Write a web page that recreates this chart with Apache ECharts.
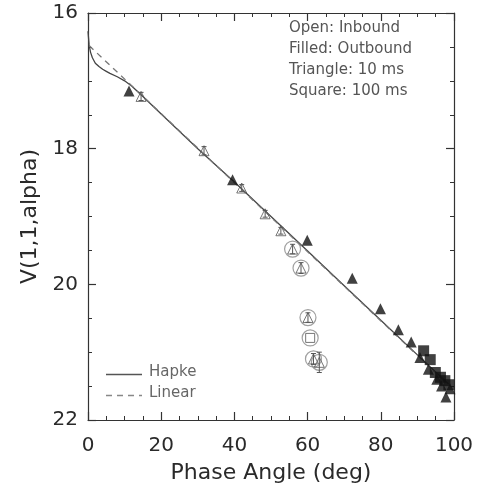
<!DOCTYPE html>
<html>
<head>
<meta charset="utf-8">
<script src="https://cdn.jsdelivr.net/npm/echarts@6/dist/echarts.min.js"></script>
<style>html,body{margin:0;padding:0;background:#fff;}#c{width:479px;height:489px;}</style>
</head>
<body>
<div id="c"></div>
<script>
// Hapke model curve
var hapkeX = [0, 0.3, 0.7, 1.2, 2, 3, 4, 5, 6, 8, 10, 12, 15, 20, 30, 40, 50, 60, 70, 80, 90, 98.5];
var hapkeY = [16.27, 16.47, 16.58, 16.66, 16.74, 16.79, 16.83, 16.86, 16.89, 16.94, 17.0, 17.08, 17.23, 17.49, 18.0, 18.49, 19.0, 19.51, 20.02, 20.53, 21.04, 21.47];
// Linear fit
var linearX = [0.3, 98.5];
var linearY = [16.48, 21.48];
// Open triangles: inbound, 10 ms
var openTriX = [14.5, 31.7, 42.0, 48.4, 52.7, 55.9, 58.2, 60.1, 61.6, 63.2];
var openTriY = [17.23, 18.03, 18.58, 18.96, 19.21, 19.48, 19.76, 20.49, 21.10, 21.15];
var openTriErr = [0.06, 0.06, 0.05, 0.05, 0.05, 0.07, 0.08, 0.07, 0.08, 0.15];
// Open square: inbound, 100 ms
var openSqX = [60.7];
var openSqY = [20.79];
// Filled triangles: outbound, 10 ms
var fillTriX = [11.2, 39.5, 59.9, 72.2, 79.9, 84.8, 88.3, 90.7, 93.0, 95.3, 96.6, 97.8, 98.9];
var fillTriY = [17.15, 18.46, 19.35, 19.91, 20.36, 20.67, 20.85, 21.08, 21.25, 21.40, 21.50, 21.66, 21.54];
// Filled squares: outbound, 100 ms
var fillSqX = [91.7, 93.5, 94.9, 96.3, 97.5, 98.6];
var fillSqY = [20.98, 21.11, 21.30, 21.37, 21.42, 21.48];
// Circled points
var circX = [55.9, 58.2, 60.1, 60.7, 61.6, 63.2];
var circY = [19.48, 19.76, 20.49, 20.79, 21.10, 21.15];
// Legend labels
var legendNames = ['Hapke', 'Linear'];

function pairs(xs, ys) { return xs.map(function (x, i) { return [x, ys[i]]; }); }

var FONT = 'DejaVu Sans';
var axisCol = '#333';
function xAx(pos, show) {
  return {
    type: 'value', position: pos, min: 0, max: 100, interval: 20,
    axisLine: { show: true, onZero: false, lineStyle: { color: axisCol, width: 1.2 } },
    axisTick: { show: true, inside: true, length: 8, lineStyle: { color: axisCol, width: 1.2 } },
    minorTick: { show: true, splitNumber: 4, length: 4, lineStyle: { color: axisCol, width: 1 } },
    splitLine: { show: false },
    axisLabel: { show: show, fontFamily: FONT, fontSize: 20, color: '#2a2a2a', margin: 16 },
    name: show ? 'Phase Angle (deg)' : '', nameLocation: 'middle', nameGap: 42,
    nameTextStyle: { fontFamily: FONT, fontSize: 22, color: '#2a2a2a' }
  };
}
function yAx(pos, show) {
  return {
    type: 'value', position: pos, min: 16, max: 22, interval: 2, inverse: true,
    axisLine: { show: true, onZero: false, lineStyle: { color: axisCol, width: 1.2 } },
    axisTick: { show: true, inside: true, length: 8, lineStyle: { color: axisCol, width: 1.2 } },
    minorTick: { show: true, splitNumber: 4, length: 4, lineStyle: { color: axisCol, width: 1 } },
    splitLine: { show: false },
    axisLabel: { show: show, fontFamily: FONT, fontSize: 20, color: '#2a2a2a', margin: 10 },
    name: show ? 'V(1,1,alpha)' : '', nameLocation: 'middle', nameGap: 44, nameRotate: 90,
    nameTextStyle: { fontFamily: FONT, fontSize: 22, color: '#2a2a2a' }
  };
}

var chart = echarts.init(document.getElementById('c'), null, { renderer: 'canvas' });
chart.setOption({
  animation: false,
  backgroundColor: '#fff',
  grid: { left: 88, top: 13, right: 25, bottom: 66, containLabel: false },
  xAxis: [xAx('bottom', true), xAx('top', false)],
  yAxis: [yAx('left', true), yAx('right', false)],
  graphic: [
    { type: 'text', left: 289, top: 18,
      style: { text: 'Open: Inbound\nFilled: Outbound\nTriangle: 10 ms\nSquare: 100 ms',
        font: '15px "DejaVu Sans"', fill: '#555', lineHeight: 21 } },
    { type: 'line', shape: { x1: 106, y1: 374.5, x2: 142, y2: 374.5 },
      style: { stroke: '#555', lineWidth: 1.3 } },
    { type: 'line', shape: { x1: 106, y1: 395.5, x2: 142, y2: 395.5 },
      style: { stroke: '#888', lineWidth: 1.3, lineDash: [6, 5] } },
    { type: 'text', x: 149, y: 372, style: { text: legendNames[0], font: '15px "DejaVu Sans"', fill: '#666', verticalAlign: 'middle' } },
    { type: 'text', x: 149, y: 393, style: { text: legendNames[1], font: '15px "DejaVu Sans"', fill: '#666', verticalAlign: 'middle' } }
  ],
  series: [
    { name: legendNames[0], type: 'line', data: pairs(hapkeX, hapkeY), smooth: false, symbol: 'none',
      lineStyle: { color: '#444', width: 1.3, type: 'solid' }, z: 3 },
    { name: legendNames[1], type: 'line', data: pairs(linearX, linearY), symbol: 'none',
      lineStyle: { color: '#777', width: 1.3, type: [6, 5] }, z: 3 },
    { name: 'circ', type: 'scatter', data: pairs(circX, circY), symbol: 'circle', symbolSize: 16,
      itemStyle: { color: 'rgba(0,0,0,0)', borderColor: '#888', borderWidth: 1.2 }, z: 4 },
    { name: 'err', type: 'custom', data: openTriX.map(function (x, i) { return [x, openTriY[i], openTriErr[i]]; }),
      renderItem: function (params, api) {
        var x = api.value(0), y = api.value(1), e = api.value(2);
        var p1 = api.coord([x, y - e]), p2 = api.coord([x, y + e]);
        var st = { stroke: '#555', lineWidth: 1 };
        return { type: 'group', children: [
          { type: 'line', shape: { x1: p1[0], y1: p1[1], x2: p2[0], y2: p2[1] }, style: st },
          { type: 'line', shape: { x1: p1[0] - 2.5, y1: p1[1], x2: p1[0] + 2.5, y2: p1[1] }, style: st },
          { type: 'line', shape: { x1: p2[0] - 2.5, y1: p2[1], x2: p2[0] + 2.5, y2: p2[1] }, style: st }
        ] };
      }, z: 5 },
    { name: 'openTri', type: 'scatter', data: pairs(openTriX, openTriY), symbol: 'triangle', symbolSize: 10,
      itemStyle: { color: 'rgba(255,255,255,0)', borderColor: '#555', borderWidth: 1 }, z: 5 },
    { name: 'openSq', type: 'scatter', data: pairs(openSqX, openSqY), symbol: 'rect', symbolSize: 9,
      itemStyle: { color: 'rgba(255,255,255,0)', borderColor: '#555', borderWidth: 1 }, z: 5 },
    { name: 'fillTri', type: 'scatter', data: pairs(fillTriX, fillTriY), symbol: 'triangle', symbolSize: 11,
      itemStyle: { color: '#111' }, z: 6 },
    { name: 'fillSq', type: 'scatter', data: pairs(fillSqX, fillSqY), symbol: 'rect', symbolSize: 11,
      itemStyle: { color: '#111' }, z: 6 }
  ]
});
</script>
</body>
</html>
